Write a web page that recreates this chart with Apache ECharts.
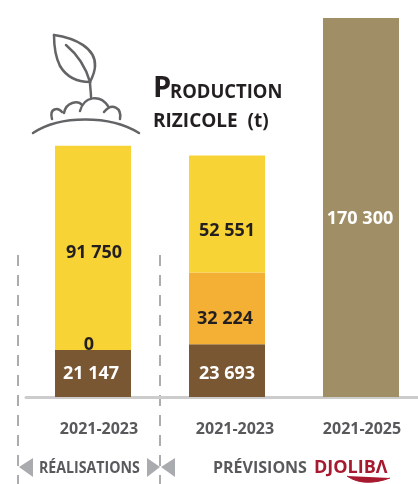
<!DOCTYPE html>
<html>
<head>
<meta charset="utf-8">
<title>Production rizicole</title>
<style>
  html, body { margin: 0; padding: 0; background: #fff; }
  #chart { width: 418px; height: 484px; }
</style>
<script src="https://cdn.jsdelivr.net/npm/echarts@6/dist/echarts.min.js"></script>
</head>
<body>
<div id="chart"></div>
<script>
  const categories = ['2021-2023', '2021-2023', '2021-2025'];
  // values are the printed ones; in the original the 23 693 block is drawn about 5px short
  const brownValues = [21147, 23693, null];
  const orangeValues = [0, 32224, null];
  const yellowValues = [91750, 52551, null];
  const totalValues = [null, null, 170300];

  const FONT = '"Open Sans", sans-serif';
  const ICON = '#636466';
  const DASH = '#8f9194';
  const ARROW = '#a9abaf';
  const DARK = '#231f20';
  const GREY = '#58595b';

  // 91750 -> 91 750
  function fmt(p) {
    return String(p.value).replace(/\B(?=(\d{3})+$)/g, ' ');
  }

  // hand placed labels, the original ones are not centred in the bars
  function withOffsets(values, offsets) {
    return values.map((v, i) => ({
      value: v,
      label: { offset: offsets[i] }
    }));
  }

  function barSeries(name, values, color, labelColor, offsets) {
    return {
      name: name,
      type: 'bar',
      stack: 'production',
      barWidth: 76,
      itemStyle: { color: color },
      label: {
        show: true,
        position: 'inside',
        color: labelColor,
        fontFamily: FONT,
        fontWeight: 'bold',
        fontSize: 18,
        formatter: fmt
      },
      data: withOffsets(values, offsets)
    };
  }

  function dashed(x) {
    return {
      type: 'line',
      shape: { x1: x, y1: 255, x2: x, y2: 484 },
      style: { stroke: DASH, lineWidth: 1.5, lineDash: [11, 9] },
      silent: true
    };
  }

  function arrow(points) {
    return { type: 'polygon', shape: { points: points }, style: { fill: ARROW }, silent: true };
  }

  function label(text, x, y, size, color, scaleX, baseline) {
    return {
      type: 'text',
      x: x,
      y: y,
      scaleX: scaleX || 1,
      style: {
        text: text,
        fill: color,
        font: 'bold ' + size + 'px ' + FONT,
        verticalAlign: baseline || 'middle'
      },
      silent: true
    };
  }

  // one cubic piece of the seedling drawing: x1, y1, cp1x, cp1y, cp2x, cp2y, x2, y2
  function curve(c) {
    return {
      type: 'bezierCurve',
      shape: { x1: c[0], y1: c[1], cpx1: c[2], cpy1: c[3], cpx2: c[4], cpy2: c[5], x2: c[6], y2: c[7] },
      style: { fill: 'none', stroke: ICON, lineWidth: 2.5, lineCap: 'round' },
      silent: true
    };
  }

  const seedling = [
    [54, 35, 75, 38, 96, 48, 95, 66],
    [95, 66, 95, 72, 92, 78, 90, 82],
    [90, 82, 75, 82, 66, 76, 60, 66],
    [60, 66, 55, 56, 54, 45, 54, 35],
    [66, 45, 78, 55, 86, 68, 90, 82],
    [90, 82, 90, 87, 91, 92, 91, 97],
    [33, 133, 60, 115, 110, 115, 139, 133],
    [52, 119, 49, 108, 58, 107, 62, 112],
    [64, 113, 66, 102, 78, 100, 82, 105],
    [80, 111, 84, 96, 100, 94, 108, 106],
    [104, 112, 112, 102, 122, 108, 120, 119]
  ];

  function tickStyle(paddingLeft) {
    return {
      color: GREY,
      fontFamily: FONT,
      fontWeight: 'bold',
      fontSize: 16,
      padding: [0, 0, 0, paddingLeft]
    };
  }

  const chart = echarts.init(document.getElementById('chart'), null, { renderer: 'canvas' });
  chart.setOption({
    animation: false,
    backgroundColor: '#fff',
    grid: { left: 26, width: 402, top: 18, bottom: 87, containLabel: false, outerBoundsMode: 'none' },
    xAxis: {
      type: 'category',
      data: categories,
      axisTick: { show: false },
      axisLine: { lineStyle: { color: '#cccccc', width: 3 } },
      axisLabel: {
        margin: 24,
        interval: 0,
        formatter(value, index) {
          return '{t' + index + '|' + value + '}';
        },
        rich: {
          t0: tickStyle(12),
          t1: tickStyle(16),
          t2: tickStyle(2)
        }
      }
    },
    yAxis: { type: 'value', min: 0, max: 170300, show: false },
    series: [
      barSeries('Brun', brownValues, '#795733', '#fff', [[-2, 0], [0, 3], [0, 0]]),
      barSeries('Orange', orangeValues, '#f4b034', DARK, [[-4, -5], [-2, 10], [0, 0]]),
      barSeries('Jaune', yellowValues, '#f7d335', DARK, [[1, 5], [0, 17], [0, 0]]),
      barSeries('Total', totalValues, '#a08f66', '#fff', [[0, 0], [0, 0], [-1, 11]])
    ],
    graphic: [
      dashed(18),
      dashed(160),
      arrow([[19, 467], [33, 458], [33, 477]]),
      arrow([[147, 458], [160, 467], [147, 477]]),
      arrow([[175, 458], [161, 467], [175, 477]]),
      label('RÉALISATIONS', 39, 468, 16, GREY, 0.885),
      label('PRÉVISIONS', 213, 468, 16, GREY),
      label('DJOLIBΛ', 314, 468, 18, '#a6192e'),
      label('P', 153, 74, 29, DARK, 1, 'top'),
      label('RODUCTION', 170, 82, 20, DARK, 0.92, 'top'),
      label('RIZICOLE  (t)', 153, 112, 19, DARK, 1, 'top')
    ].concat(seedling.map(curve), [{
      type: 'bezierCurve',
      shape: { x1: 347, y1: 476, cpx1: 358, cpy1: 484, cpx2: 374, cpy2: 484, x2: 390, y2: 478 },
      style: { fill: '#a6192e', stroke: '#a6192e', lineWidth: 1 },
      silent: true
    }])
  });
</script>
</body>
</html>
